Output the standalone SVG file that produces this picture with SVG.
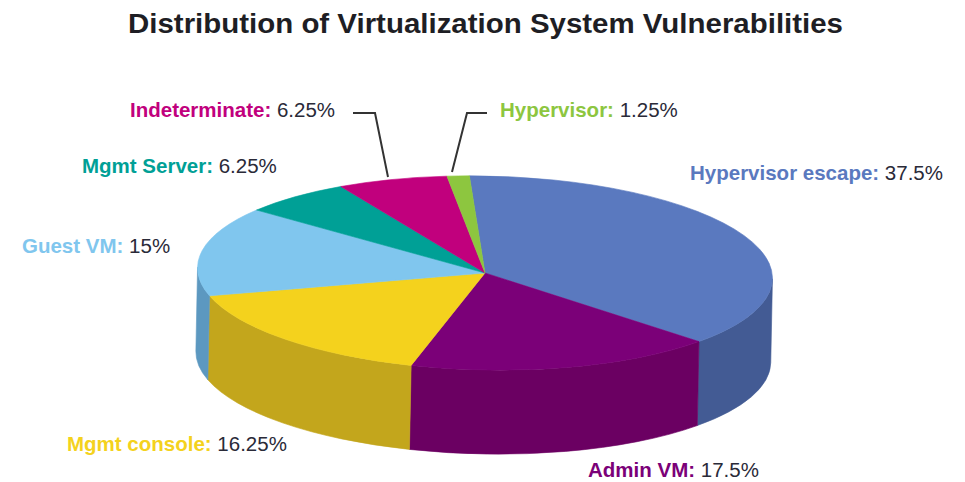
<svg xmlns="http://www.w3.org/2000/svg" width="965" height="482" viewBox="0 0 965 482">
<style>
text{font-family:"Liberation Sans",Arial,sans-serif;}
.title{font-size:28px;font-weight:bold;fill:#1e1e24;}
.lbl{font-size:20.5px;font-weight:bold;}
.pct{font-weight:normal;fill:#2a2a38;}
.leader{fill:none;stroke:#333;stroke-width:2;}
.t-esc{fill:#5a79bf;stroke:#5a79bf;} .s-esc{fill:#435b94;stroke:#435b94;}
.t-adm{fill:#7b0078;stroke:#7b0078;} .s-adm{fill:#6b0062;stroke:#6b0062;}
.t-con{fill:#f4d21d;stroke:#f4d21d;} .s-con{fill:#c3a61c;stroke:#c3a61c;}
.t-gst{fill:#80c6ee;stroke:#80c6ee;} .s-gst{fill:#5c98c0;stroke:#5c98c0;}
.t-srv{fill:#00a096;stroke:#00a096;}
.t-ind{fill:#c1007d;stroke:#c1007d;}
.t-hyp{fill:#8dc63f;stroke:#8dc63f;}
path{stroke-width:0.6;stroke-linejoin:round;}
</style>
<rect width="965" height="482" fill="#ffffff"/>
<text class="title" x="128" y="33" textLength="715" lengthAdjust="spacingAndGlyphs">Distribution of Virtualization System Vulnerabilities</text>

<g id="hypervisor-escape">
<g transform="rotate(1.15 485 273)">
<path class="s-esc" d="M772.5 273 A287.5 97 0 0 1 700.33 337.27 L700.33 421.27 A287.5 97 0 0 0 772.5 357 Z"/>
<path class="t-esc" d="M485 273 L467.45 176.18 A287.5 97 0 0 1 700.33 337.27 Z"/>
</g>
<text class="lbl" x="690" y="180" fill="#5a79bf">Hypervisor escape: <tspan class="pct">37.5%</tspan></text>
</g>

<g id="admin-vm">
<g transform="rotate(1.15 485 273)">
<path class="s-adm" d="M700.33 337.27 A287.5 97 0 0 1 413.02 366.91 L413.02 450.91 A287.5 97 0 0 0 700.33 421.27 Z"/>
<path class="t-adm" d="M485 273 L700.33 337.27 A287.5 97 0 0 1 413.02 366.91 Z"/>
</g>
<text class="lbl" x="588" y="477" fill="#7b0078">Admin VM: <tspan class="pct">17.5%</tspan></text>
</g>

<g id="mgmt-console">
<g transform="rotate(1.15 485 273)">
<path class="s-con" d="M413.02 366.91 A287.5 97 0 0 1 210.06 301.36 L210.06 385.36 A287.5 97 0 0 0 413.02 450.91 Z"/>
<path class="t-con" d="M485 273 L413.02 366.91 A287.5 97 0 0 1 210.06 301.36 Z"/>
</g>
<text class="lbl" x="67" y="451" fill="#f4d21d">Mgmt console: <tspan class="pct">16.25%</tspan></text>
</g>

<g id="guest-vm">
<g transform="rotate(1.15 485 273)">
<path class="s-gst" d="M210.06 301.36 A287.5 97 0 0 1 197.5 273 L197.5 357 A287.5 97 0 0 0 210.06 385.36 Z"/>
<path class="t-gst" d="M485 273 L210.06 301.36 A287.5 97 0 0 1 255.39 214.62 Z"/>
</g>
<text class="lbl" x="22" y="253" fill="#80c6ee">Guest VM: <tspan class="pct">15%</tspan></text>
</g>

<g id="mgmt-server">
<g transform="rotate(1.15 485 273)">
<path class="t-srv" d="M485 273 L255.39 214.62 A287.5 97 0 0 1 339.08 189.42 Z"/>
</g>
<text class="lbl" x="82" y="173" fill="#00a096">Mgmt Server: <tspan class="pct">6.25%</tspan></text>
</g>

<g id="indeterminate">
<g transform="rotate(1.15 485 273)">
<path class="t-ind" d="M485 273 L339.08 189.42 A287.5 97 0 0 1 444.99 176.94 Z"/>
</g>
<text class="lbl" x="130" y="117" fill="#c1007d">Indeterminate: <tspan class="pct">6.25%</tspan></text>
</g>

<g id="hypervisor">
<g transform="rotate(1.15 485 273)">
<path class="t-hyp" d="M485 273 L444.99 176.94 A287.5 97 0 0 1 467.45 176.18 Z"/>
</g>
<text class="lbl" x="500" y="117" fill="#8dc63f">Hypervisor: <tspan class="pct">1.25%</tspan></text>
</g>

<g id="connectors">
<polyline class="leader" points="353,113 375,113 388,177"/>
<polyline class="leader" points="487,113 467,113 452,172"/>
</g>
</svg>
